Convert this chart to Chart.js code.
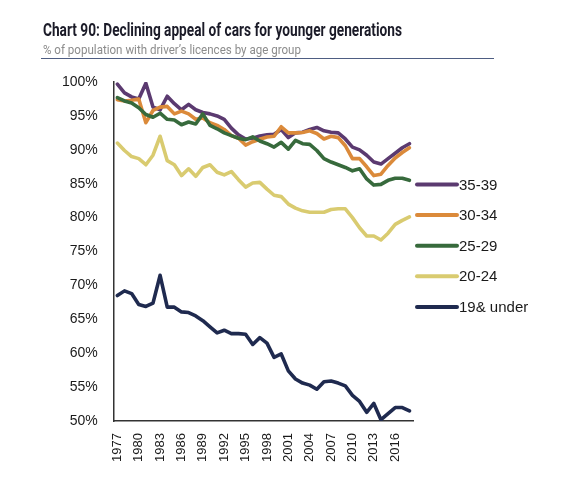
<!DOCTYPE html>
<html>
<head>
<meta charset="utf-8">
<script src="https://cdn.jsdelivr.net/npm/chart.js@4.4.1/dist/chart.umd.min.js"></script>
<style>
  html, body { margin: 0; padding: 0; background: #fff; }
  #wrap { position: relative; width: 575px; height: 490px; }
  #chart { position: absolute; left: 0; top: 0; }
  .title, .subtitle { position: absolute; left: 43px; white-space: nowrap; transform-origin: 0 0; font-family: Roboto, "Liberation Sans", sans-serif; line-height: 1; }
  .title { top: 21px; font-size: 18px; font-weight: 700; color: #1b1b28; }
  .subtitle { top: 43px; font-size: 13px; font-weight: 400; color: #8c8c8c; }
  .rule { position: absolute; left: 41px; top: 58px; width: 453px; border-top: 1.5px solid #4e5d82; }
</style>
</head>
<body>
<div id="wrap">
  <canvas id="chart" width="575" height="490"></canvas>
  <div class="title" id="title" data-w="359">Chart 90: Declining appeal of cars for younger generations</div>
  <div class="subtitle" id="subtitle" data-w="258">% of population with driver’s licences by age group</div>
  <div class="rule"></div>
</div>
<script>
const years = ["1977", "1978", "1979", "1980", "1981", "1982", "1983", "1984", "1985", "1986",
  "1987", "1988", "1989", "1990", "1991", "1992", "1993", "1994", "1995", "1996",
  "1997", "1998", "1999", "2000", "2001", "2002", "2003", "2004", "2005", "2006",
  "2007", "2008", "2009", "2010", "2011", "2012", "2013", "2014", "2015", "2016",
  "2017", "2018"];

const age3539 = [99.7, 98.4, 97.8, 97.5, 99.8, 96.3, 95.9, 97.9, 96.8, 95.9,
  96.7, 95.9, 95.5, 95.3, 95.0, 94.5, 93.2, 92.2, 91.6, 91.7,
  92.05, 92.2, 92.3, 93.0, 91.8, 92.5, 92.6, 93.0, 93.3, 92.8,
  92.6, 92.5, 91.6, 90.4, 90.0, 89.2, 88.2, 87.9, 88.7, 89.5,
  90.3, 90.9];
const age3034 = [97.4, 97.2, 97.3, 97.5, 94.0, 95.8, 96.3, 96.4, 95.3, 95.7,
  95.3, 94.5, 94.7, 94.0, 93.6, 93.0, 92.1, 91.7, 90.7, 91.2,
  91.55, 91.9, 92.0, 93.4, 92.5, 92.5, 92.55, 92.8, 92.4, 91.6,
  92.0, 91.8, 90.6, 88.7, 88.7, 87.5, 86.2, 86.4, 87.7, 88.8,
  89.6, 90.3];
const age2529 = [97.7, 97.2, 96.9, 96.2, 95.2, 94.8, 95.4, 94.5, 94.4, 93.7,
  94.1, 93.8, 95.3, 93.6, 93.1, 92.5, 92.1, 91.7, 91.5, 91.9,
  91.3, 90.9, 90.4, 91.1, 90.1, 91.4, 90.9, 90.8, 89.9, 88.7,
  88.2, 87.8, 87.4, 86.9, 87.2, 85.7, 84.8, 84.9, 85.5, 85.8,
  85.8, 85.5];
const age2024 = [91.0, 89.9, 89.0, 88.7, 87.8, 89.2, 92.0, 88.4, 87.8, 86.2,
  87.2, 86.1, 87.4, 87.8, 86.7, 86.3, 86.8, 85.6, 84.5, 85.1,
  85.2, 84.2, 83.3, 83.1, 82.0, 81.4, 81.0, 80.8, 80.8, 80.8,
  81.2, 81.3, 81.3, 80.0, 78.5, 77.3, 77.3, 76.7, 77.7, 79.0,
  79.6, 80.1];
const under19 = [68.5, 69.2, 68.8, 67.2, 66.9, 67.4, 71.5, 66.8, 66.8, 66.1,
  66.0, 65.5, 64.8, 63.9, 63.0, 63.4, 62.9, 62.9, 62.8, 61.3,
  62.3, 61.5, 59.4, 59.9, 57.4, 56.2, 55.6, 55.3, 54.7, 55.8,
  55.9, 55.6, 55.2, 53.8, 52.9, 51.3, 52.6, 50.2, 51.1, 52.0,
  52.0, 51.5];

const seriesLabels = ["35-39", "30-34", "25-29", "20-24", "19& under"];
const seriesColors = ["#5b3a70", "#db8a3a", "#376a3c", "#d9cb70", "#1f2a4f"];

// squeeze the heading text to the condensed width of the original
document.querySelectorAll(".title, .subtitle").forEach(el => {
  const w = el.getBoundingClientRect().width;
  el.style.transform = "scaleX(" + (Number(el.dataset.w) / w) + ")";
});

const sideLegend = {
  id: "sideLegend",
  afterDraw(chart) {
    const ctx = chart.ctx;
    const x0 = chart.chartArea.right + 4;
    ctx.save();
    ctx.font = "15px 'Liberation Sans', Arial, sans-serif";
    ctx.textBaseline = "middle";
    chart.data.datasets.forEach((ds, i) => {
      const y = 184.5 + i * 30.6;
      ctx.strokeStyle = ds.borderColor;
      ctx.lineWidth = 4;
      ctx.lineCap = "round";
      ctx.beginPath();
      ctx.moveTo(x0, y);
      ctx.lineTo(x0 + 40, y);
      ctx.stroke();
      ctx.fillStyle = "#1a1a1a";
      ctx.fillText(ds.label, x0 + 42, y + 1);
    });
    ctx.restore();
  }
};

const allSeries = [age3539, age3034, age2529, age2024, under19];

const ctx = document.getElementById("chart").getContext("2d");
const myChart = new Chart(ctx, {
  type: "line",
  data: {
    labels: years,
    datasets: allSeries.map((values, i) => ({
      label: seriesLabels[i],
      data: values,
      borderColor: seriesColors[i],
      backgroundColor: "transparent",
      borderWidth: 3.6,
      borderCapStyle: "round",
      borderJoinStyle: "round",
      pointRadius: 0,
      tension: 0,
      order: allSeries.length - i,
    })),
  },
  options: {
    responsive: false,
    animation: false,
    layout: { padding: { top: 82, right: 162, bottom: 16, left: 46 } },
    plugins: {
      legend: { display: false },
      tooltip: { enabled: false },
    },
    scales: {
      x: {
        offset: true,
        grid: { display: false, drawTicks: false },
        border: { display: true, color: "#333", width: 1.5 },
        ticks: {
          autoSkip: false,
          minRotation: 90,
          maxRotation: 90,
          padding: 12,
          color: "#1a1a1a",
          font: { family: "'Liberation Sans', Arial, sans-serif", size: 13 },
          callback: function (value, index) {
            return index % 3 === 0 ? years[index] : "";
          },
        },
      },
      y: {
        min: 50,
        max: 100,
        grid: { display: false, drawTicks: false },
        border: { display: true, color: "#333", width: 1.5 },
        ticks: {
          stepSize: 5,
          padding: 16,
          color: "#1a1a1a",
          font: { family: "'Liberation Sans', Arial, sans-serif", size: 14 },
          callback: (v) => v + "%",
        },
      },
    },
  },
  plugins: [sideLegend],
});
</script>
</body>
</html>
